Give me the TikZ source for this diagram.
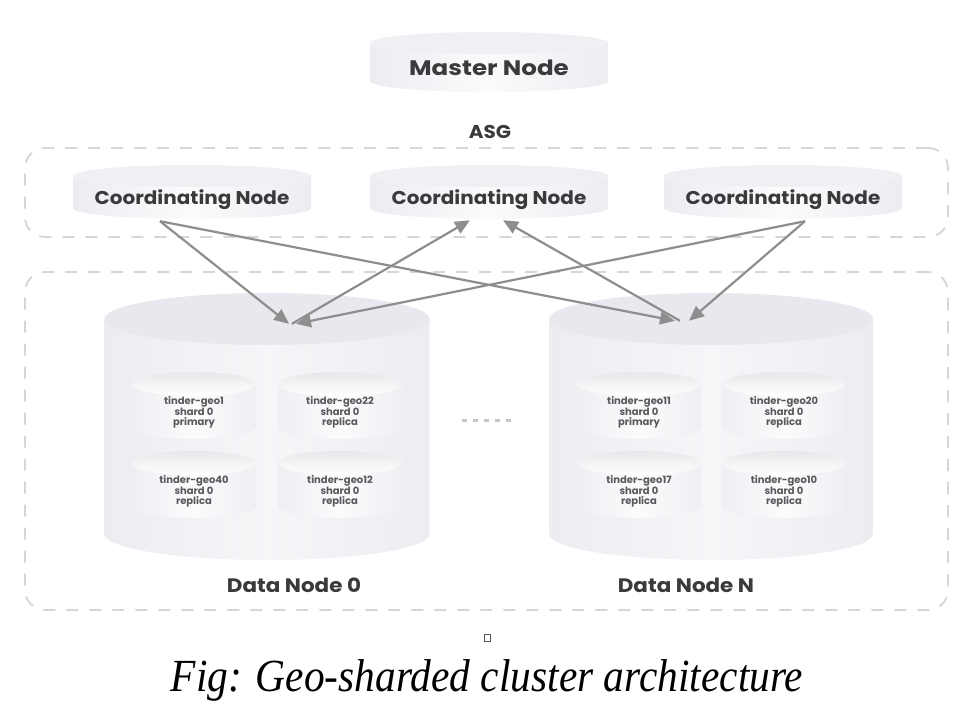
\documentclass[tikz,border=0pt]{standalone}
\usepackage{fontspec}
\setmainfont{Liberation Serif}
\newfontfamily\popfont{Poppins}
\usetikzlibrary{arrows.meta,calc}
\definecolor{txtdark}{HTML}{3A3A3C}
\definecolor{txtsmall}{HTML}{58595C}
\definecolor{arrowgray}{HTML}{8E8E8E}
\definecolor{dashgray}{HTML}{D4D6DA}
\definecolor{bigside}{HTML}{EBEDF1}
\definecolor{bigmid}{HTML}{F5F6F8}
\definecolor{bigtop}{HTML}{E7E9EE}
\definecolor{smside}{HTML}{EDEFF2}
\definecolor{smmid}{HTML}{FBFBFC}
\definecolor{smtop}{HTML}{EEF0F3}
\definecolor{capsq}{HTML}{555555}
% name, cx, ytop, w, h, ry, body style, top style (image coords, y down)
\newcommand\mycyl[8]{%
  \pgfmathsetmacro\cylxl{#2-#4/2}%
  \pgfmathsetmacro\cylxr{#2+#4/2}%
  \pgfmathsetmacro\cylyt{-(#3+#6)}%
  \pgfmathsetmacro\cylyb{-(#3+#5-#6)}%
  \pgfmathsetmacro\cylrx{#4/2}%
  \pgfmathsetmacro\cylyc{-(#3+#5/2)}%
  \path[#7] (\cylxl,\cylyt) -- (\cylxl,\cylyb) arc[start angle=180,end angle=360,x radius=\cylrx,y radius=#6] -- (\cylxr,\cylyt) -- cycle;
  \path[#8] (#2,\cylyt) ellipse[x radius=\cylrx, y radius=#6];
  \node[inner sep=0pt, minimum width=#4pt, minimum height=#5pt] (#1) at (#2,\cylyc) {};
}
\tikzset{
  bigbody/.style={shade, left color=bigside, right color=bigside, middle color=bigmid},
  bigtopfill/.style={fill=bigtop},
  mbody/.style={shade, left color=bigside, right color=bigside, middle color=smmid},
  mtopfill/.style={fill=smtop},
  smbody/.style={shade, left color=smside, right color=smside, middle color=smmid},
  smtopfill/.style={shade, top color=smtop!80!gray!60!white, bottom color=white},
  bigtext/.style={font=\popfont\bfseries\fontsize{21}{24}\selectfont, text=txtdark, inner sep=0pt, xscale=1.17},
  midtext/.style={font=\popfont\bfseries\fontsize{18.5}{22}\selectfont, text=txtdark, inner sep=0pt, xscale=1.08},
  labeltext/.style={font=\popfont\bfseries\fontsize{19.5}{22}\selectfont, text=txtdark, inner sep=0pt, xscale=1.1},
  smalltext/.style={font=\popfont\bfseries\fontsize{10}{10.8}\selectfont, text=txtsmall, align=center, inner sep=0pt},
  dashbox/.style={draw=dashgray, line width=1.8pt, dash pattern=on 12pt off 11pt, rounded corners=20pt, inner sep=0pt},
  arr/.style={draw=arrowgray, line width=2.2pt, -{Triangle[length=15pt,width=13pt]}},
}
\begin{document}
\begin{tikzpicture}[x=1pt,y=1pt]
\useasboundingbox (0,0) rectangle (975,-715);
\fill[white] (0,0) rectangle (975,-715);

% dashed groups
\node[dashbox, minimum width=923pt, minimum height=89pt] (asgbox) at (486.5,-192.5) {};
\node[dashbox, minimum width=923pt, minimum height=338pt] (databox) at (486.5,-441) {};

% master and coordinating nodes
\mycyl{master}{489}{32}{238}{60}{11}{mbody}{mtopfill}
\node[bigtext] (mastertxt) at ([yshift=-6pt]master.center) {Master Node};
\node[midtext] (asglabel) at (490,-132) {ASG};

\mycyl{coord1}{192}{165}{238}{54}{11}{mbody}{mtopfill}
\mycyl{coord2}{489}{165}{238}{54}{11}{mbody}{mtopfill}
\mycyl{coord3}{783}{165}{238}{54}{11}{mbody}{mtopfill}
\node[midtext] (c1txt) at ([yshift=-8pt]coord1.center) {Coordinating Node};
\node[midtext] (c2txt) at ([yshift=-8pt]coord2.center) {Coordinating Node};
\node[midtext] (c3txt) at ([yshift=-8pt]coord3.center) {Coordinating Node};

% data nodes
\mycyl{dn0}{267}{293}{325}{267}{26}{bigbody}{bigtopfill}
\mycyl{dnN}{711}{293}{324}{267}{26}{bigbody}{bigtopfill}

\mycyl{s1}{194}{372}{124}{67}{12}{smbody}{smtopfill}
\mycyl{s2}{340}{372}{124}{67}{12}{smbody}{smtopfill}
\mycyl{s3}{194}{451}{124}{67}{12}{smbody}{smtopfill}
\mycyl{s4}{340}{451}{124}{67}{12}{smbody}{smtopfill}
\mycyl{s5}{639}{372}{124}{67}{12}{smbody}{smtopfill}
\mycyl{s6}{784}{372}{124}{67}{12}{smbody}{smtopfill}
\mycyl{s7}{639}{451}{124}{67}{12}{smbody}{smtopfill}
\mycyl{s8}{784}{451}{124}{67}{12}{smbody}{smtopfill}

\node[smalltext] (t1) at ([yshift=-7pt]s1.center) {tinder-geo1\\shard 0\\primary};
\node[smalltext] (t2) at ([yshift=-7pt]s2.center) {tinder-geo22\\shard 0\\replica};
\node[smalltext] (t3) at ([yshift=-7pt]s3.center) {tinder-geo40\\shard 0\\replica};
\node[smalltext] (t4) at ([yshift=-7pt]s4.center) {tinder-geo12\\shard 0\\replica};
\node[smalltext] (t5) at ([yshift=-7pt]s5.center) {tinder-geo11\\shard 0\\primary};
\node[smalltext] (t6) at ([yshift=-7pt]s6.center) {tinder-geo20\\shard 0\\replica};
\node[smalltext] (t7) at ([yshift=-7pt]s7.center) {tinder-geo17\\shard 0\\replica};
\node[smalltext] (t8) at ([yshift=-7pt]s8.center) {tinder-geo10\\shard 0\\replica};

\node[labeltext] (dn0label) at (294,-585) {Data Node 0};
\node[labeltext] (dnNlabel) at (686,-585) {Data Node N};

% ellipsis between data nodes
\coordinate (dotsL) at (462,-420);
\coordinate (dotsR) at (516,-420);
\draw[draw=gray!45, line width=3pt, dash pattern=on 5pt off 6pt] (dotsL) -- (dotsR);

% arrows
\draw[arr] ([xshift=-32pt,yshift=-2pt]coord1.south) -- ([xshift=22pt,yshift=-31pt]dn0.north);
\draw[arr] ([xshift=-32pt,yshift=-2pt]coord1.south) -- ([xshift=-36pt,yshift=-28pt]dnN.north);
\draw[arr] ([xshift=25pt,yshift=-31pt]dn0.north) -- ([xshift=-19pt,yshift=-1pt]coord2.south);
\draw[arr] ([xshift=-31pt,yshift=-28pt]dnN.north) -- ([xshift=14pt,yshift=-1pt]coord2.south);
\draw[arr] ([xshift=22pt,yshift=-2pt]coord3.south) -- ([xshift=29pt,yshift=-31pt]dn0.north);
\draw[arr] ([xshift=22pt,yshift=-2pt]coord3.south) -- ([xshift=-22pt,yshift=-28pt]dnN.north);

% caption
\node[draw=capsq, line width=0.9pt, minimum width=6pt, minimum height=7pt, inner sep=0pt] (sq) at (487,-638) {};
\node[font=\itshape\fontsize{46}{50}\selectfont, xscale=0.9, inner sep=0pt] (caption) at (487,-680) {Fig: Geo-sharded cluster architecture};
\end{tikzpicture}
\end{document}
